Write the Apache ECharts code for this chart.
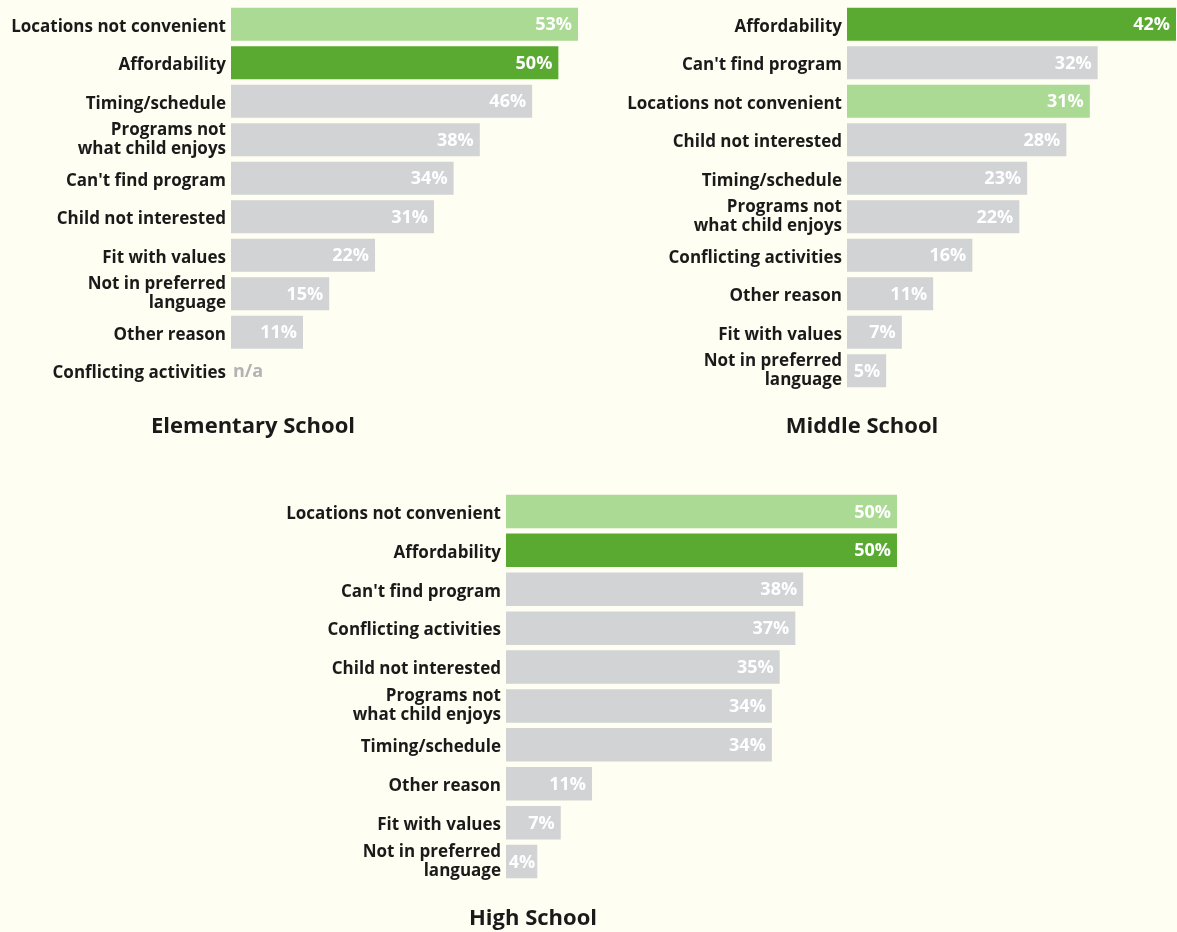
<!DOCTYPE html>
<html>
<head>
<meta charset="utf-8">
<script src="https://cdn.jsdelivr.net/npm/echarts@6/dist/echarts.min.js"></script>
<style>
html,body{margin:0;padding:0;background:#fefef2;}
#c{width:1177px;height:932px;}
</style>
</head>
<body>
<div id="c"></div>
<script>
// ---- Data ----
const elemCategories = ["Locations not convenient","Affordability","Timing/schedule","Programs not\nwhat child enjoys","Can't find program","Child not interested","Fit with values","Not in preferred\nlanguage","Other reason","Conflicting activities"];
const elemValues = [53,50,46,38,34,31,22,15,11,null];

const middleCategories = ["Affordability","Can't find program","Locations not convenient","Child not interested","Timing/schedule","Programs not\nwhat child enjoys","Conflicting activities","Other reason","Fit with values","Not in preferred\nlanguage"];
const middleValues = [42,32,31,28,23,22,16,11,7,5];

const highCategories = ["Locations not convenient","Affordability","Can't find program","Conflicting activities","Child not interested","Programs not\nwhat child enjoys","Timing/schedule","Other reason","Fit with values","Not in preferred\nlanguage"];
const highValues = [50,50,38,37,35,34,34,11,7,4];

const panelTitles = ["Elementary School","Middle School","High School"];

// ---- Styling ----
const FONT = 'Open Sans';
const LIGHT_GREEN = '#abda94';
const DARK_GREEN = '#5aaa32';
const GRAY = '#d1d3d4';
const TEXT = '#1a1a1a';

function colorFor(cat){
  if (cat === 'Locations not convenient') return LIGHT_GREEN;
  if (cat === 'Affordability') return DARK_GREEN;
  return GRAY;
}
function buildData(cats, vals){
  return vals.map((v,i)=>{
    if (v === null) {
      return {value:0, itemStyle:{color:colorFor(cats[i])},
        label:{show:true, position:'right', distance:2, formatter:'n/a', color:'#b3b3b3'}};
    }
    const item = {value:v, itemStyle:{color:colorFor(cats[i])}};
    if (v < 5) item.label = {distance:2};
    return item;
  });
}

const panels = [
  {cats:elemCategories, vals:elemValues, grid:{left:231, top:5, width:347, height:385}, max:53},
  {cats:middleCategories, vals:middleValues, grid:{left:847, top:5, width:329, height:385}, max:42},
  {cats:highCategories, vals:highValues, grid:{left:506, top:492, width:391, height:389}, max:50}
];

const titleStyle = {fontFamily:FONT, fontSize:22, fontWeight:'bold', color:TEXT};
const catStyle = {fontFamily:FONT, fontSize:17, fontWeight:'bold', color:TEXT, lineHeight:19};

const option = {
  backgroundColor:'#fefef2',
  animation:false,
  title:[
    {text:panelTitles[0], left:248, top:411, textAlign:'center', textStyle:titleStyle},
    {text:panelTitles[1], left:857, top:411, textAlign:'center', textStyle:titleStyle},
    {text:panelTitles[2], left:528, top:903, textAlign:'center', textStyle:titleStyle}
  ],
  grid: panels.map(p=>Object.assign({containLabel:false}, p.grid)),
  xAxis: panels.map((p,i)=>({type:'value', gridIndex:i, min:0, max:p.max, show:false})),
  yAxis: panels.map((p,i)=>({
    type:'category', gridIndex:i, inverse:true, data:p.cats,
    axisLine:{show:false}, axisTick:{show:false}, splitLine:{show:false},
    axisLabel:Object.assign({margin:5, align:'right',
      formatter: v => v.indexOf('\n') < 0 ? '{s|' + v + '}' : v,
      rich:{s:Object.assign({padding:[5,0,0,0]}, catStyle)}
    }, catStyle)
  })),
  series: panels.map((p,i)=>({
    type:'bar', xAxisIndex:i, yAxisIndex:i,
    data: buildData(p.cats, p.vals),
    barCategoryGap:'14%',
    label:{show:true, position:'insideRight', distance:6, offset:[0,1], formatter:'{c}%', color:'#ffffff', fontFamily:FONT, fontSize:18, fontWeight:'bold'}
  }))
};

echarts.init(document.getElementById('c'), null, {renderer:'canvas'}).setOption(option);
</script>
</body>
</html>
